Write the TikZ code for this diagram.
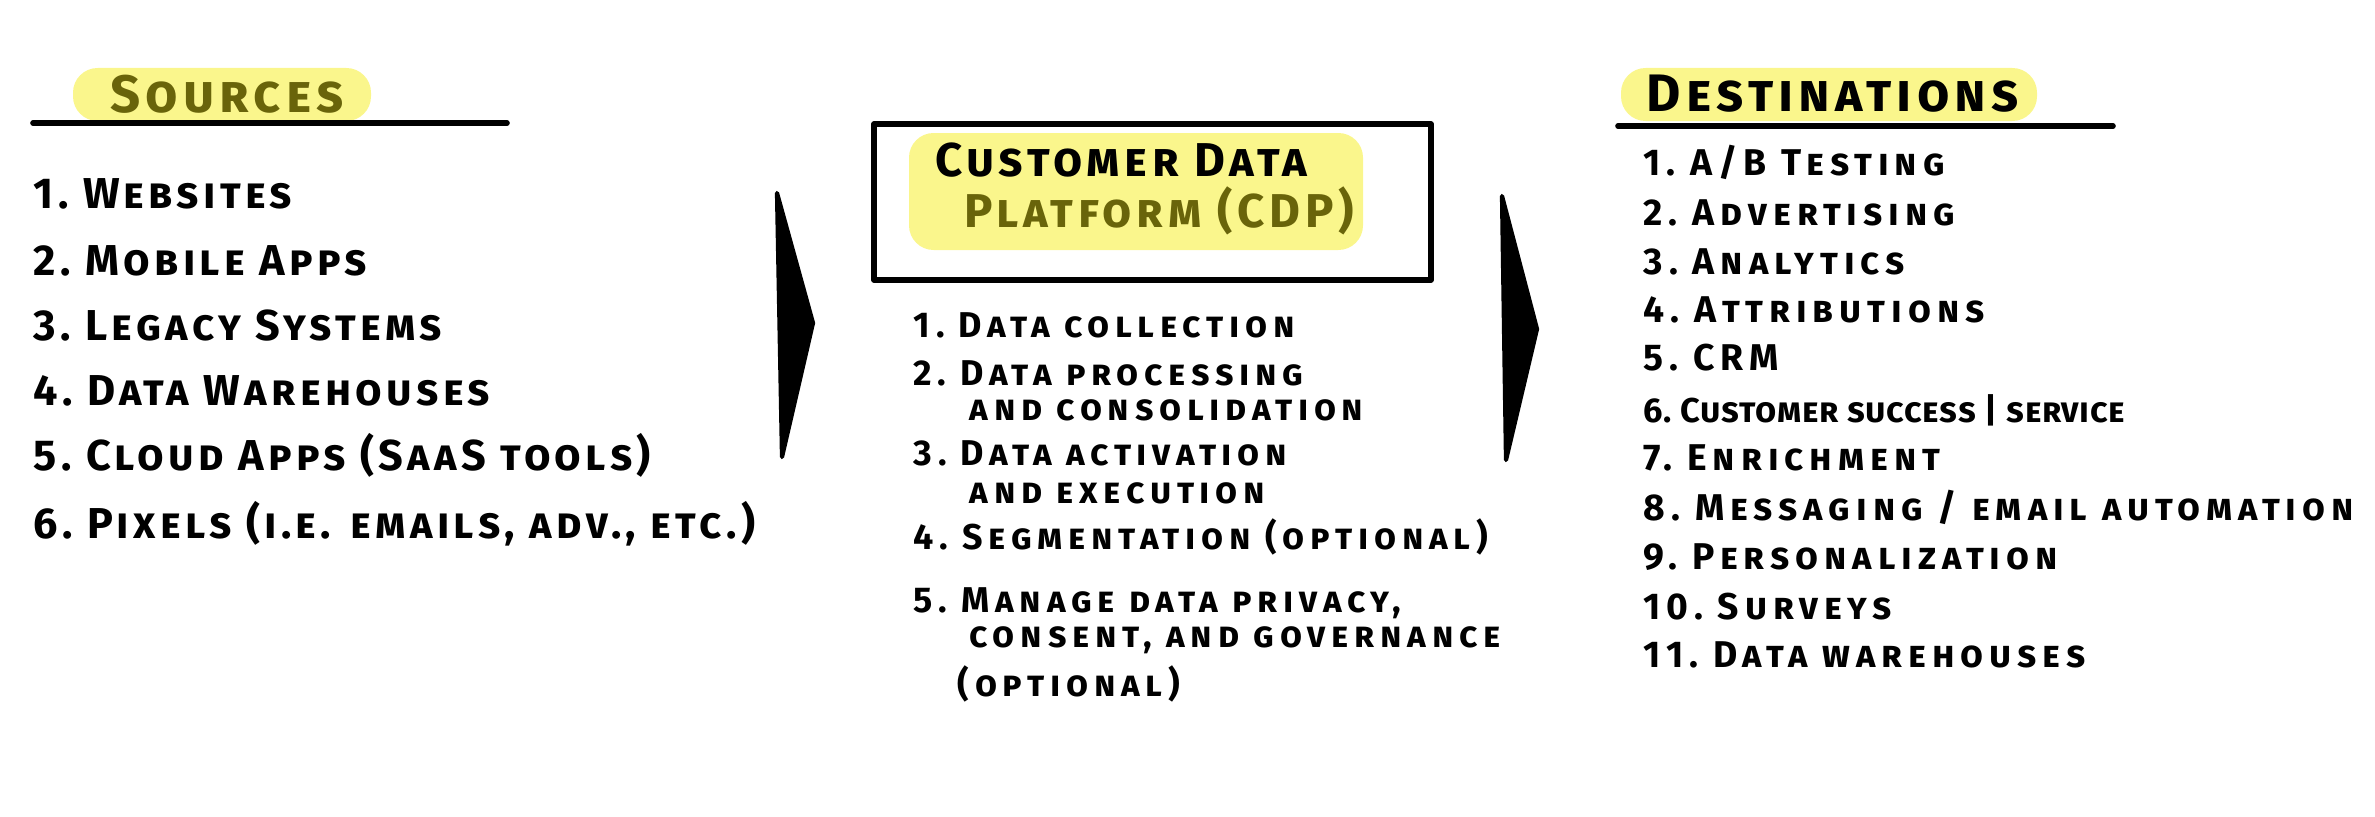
\documentclass[tikz,border=0pt]{standalone}
\usepackage{fontspec}
\newfontfamily\handfont[Letters=SmallCaps,LetterSpace=10]{Fira Sans}
\newfontfamily\handwide[Letters=SmallCaps,LetterSpace=16]{Fira Sans}
\newfontfamily\handtight[Letters=SmallCaps,LetterSpace=2]{Fira Sans}
\definecolor{marker}{RGB}{250,246,140}
\definecolor{inkolive}{RGB}{105,100,10}

\begin{document}
\begin{tikzpicture}[
        title/.style={font=\handfont\bfseries\fontsize{15}{18}\selectfont, inner sep=0pt},
        boxtext/.style={font=\handfont\bfseries\fontsize{13.5}{16}\selectfont, inner sep=0pt},
        srcitem/.style={anchor=mid west, font=\handfont\bfseries\fontsize{12.3}{15}\selectfont, inner sep=0pt},
        cdpitem/.style={anchor=mid west, font=\handwide\bfseries\fontsize{10.2}{12}\selectfont, inner sep=0pt},
        dstitem/.style={anchor=mid west, font=\handwide\bfseries\fontsize{10.6}{12}\selectfont, inner sep=0pt},
        highlight/.style={fill=marker, rounded corners=7pt},
        rule/.style={line width=1.6pt, line cap=round},
        wedge/.style={fill=black, draw=black, line width=1.2pt, line join=round}
    ]

    % page frame
    \useasboundingbox (0,0) rectangle (23.75,-8.17);

    % sources column
    \fill[highlight] (0.73,-0.68) rectangle (3.71,-1.21);
    \node[title, text=inkolive] (srctitle) at (2.27,-0.94) {Sources};
    \draw[rule] (0.33,-1.23) -- (5.07,-1.23);
    \node[srcitem] (src1) at (0.33,-2.01) {1.\ Websites};
    \node[srcitem] (src2) at (0.33,-2.68) {2.\ Mobile Apps};
    \node[srcitem] (src3) at (0.33,-3.33) {3.\ Legacy Systems};
    \node[srcitem] (src4) at (0.33,-3.98) {4.\ Data Warehouses};
    \node[srcitem] (src5) at (0.33,-4.63) {5.\ Cloud Apps (SaaS tools)};
    \node[srcitem] (src6) at (0.33,-5.31) {6.\ Pixels (i.e. emails, adv., etc.)};

    % arrow into the CDP
    \filldraw[wedge] (7.77,-1.93) -- (8.13,-3.23) -- (7.82,-4.57) -- cycle;

    % CDP box
    \draw[line width=1.6pt, line join=round] (8.74,-1.24) rectangle (14.31,-2.80);
    \fill[highlight] (9.09,-1.33) rectangle (13.63,-2.50);
    \node[boxtext] (cdptop) at (11.21,-1.60) {Customer Data};
    \node[boxtext, text=inkolive] (cdpbot) at (11.59,-2.11) {Platform (CDP)};

    % CDP functions
    \node[cdpitem] (cdp1) at (9.13,-3.30) {1.\ Data collection};
    \node[cdpitem] (cdp2) at (9.13,-3.78) {2.\ Data processing};
    \node[cdpitem] (cdp2b) at (9.69,-4.13) {and consolidation};
    \node[cdpitem] (cdp3) at (9.13,-4.58) {3.\ Data activation};
    \node[cdpitem] (cdp3b) at (9.69,-4.96) {and execution};
    \node[cdpitem] (cdp4) at (9.13,-5.42) {4.\ Segmentation (optional)};
    \node[cdpitem] (cdp5) at (9.13,-6.05) {5.\ Manage data privacy,};
    \node[cdpitem] (cdp5b) at (9.69,-6.40) {consent, and governance};
    \node[cdpitem] (cdp5c) at (9.57,-6.89) {(optional)};

    % arrow out of the CDP
    \filldraw[wedge] (15.02,-1.96) -- (15.37,-3.29) -- (15.06,-4.60) -- cycle;

    % destinations column
    \fill[highlight] (16.21,-0.68) rectangle (20.37,-1.21);
    \node[title] (dsttitle) at (18.33,-0.94) {Destinations};
    \draw[rule] (16.18,-1.26) -- (21.13,-1.26);
    \node[dstitem] (dst1) at (16.43,-1.68) {1.\ A/B Testing};
    \node[dstitem] (dst2) at (16.43,-2.18) {2.\ Advertising};
    \node[dstitem] (dst3) at (16.43,-2.67) {3.\ Analytics};
    \node[dstitem] (dst4) at (16.43,-3.15) {4.\ Attributions};
    \node[dstitem] (dst5) at (16.43,-3.63) {5.\ CRM};
    \node[dstitem, font=\handtight\bfseries\fontsize{9.8}{12}\selectfont] (dst6) at (16.43,-4.15) {6.\ Customer success | service};
    \node[dstitem] (dst7) at (16.43,-4.63) {7.\ Enrichment};
    \node[dstitem] (dst8) at (16.43,-5.13) {8.\ Messaging / email automation};
    \node[dstitem] (dst9) at (16.43,-5.62) {9.\ Personalization};
    \node[dstitem] (dst10) at (16.43,-6.12) {10.\ Surveys};
    \node[dstitem] (dst11) at (16.43,-6.60) {11.\ Data warehouses};

\end{tikzpicture}
\end{document}
